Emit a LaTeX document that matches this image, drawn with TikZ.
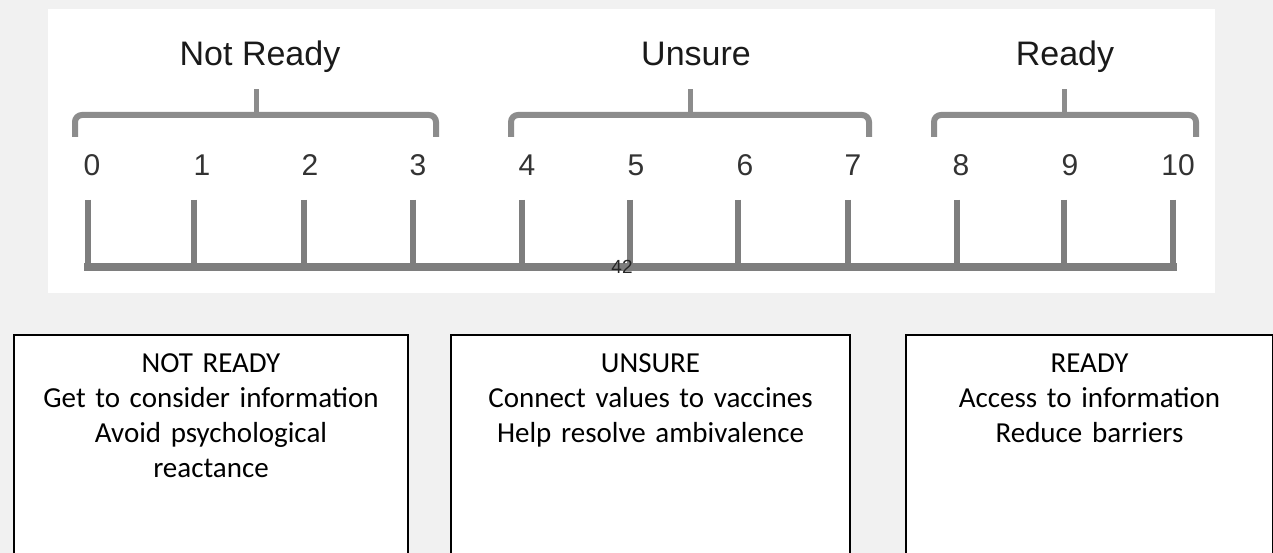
\documentclass[tikz,border=0pt]{standalone}
\usepackage{fontspec}
\setmainfont{Carlito}
\newfontfamily\scalefont{Liberation Sans}
\definecolor{pagebg}{HTML}{F1F1F1}
\definecolor{rulegray}{HTML}{7E7E7E}
\definecolor{bracegray}{HTML}{8C8C8C}
\definecolor{digitgray}{HTML}{333333}
\definecolor{labelink}{HTML}{1A1A1A}
\tikzset{
  tickline/.style={draw=rulegray, line width=5.5pt},
  baseline/.style={draw=rulegray, line width=8.5pt, line cap=rect},
  bracket/.style={draw=bracegray, line width=6pt, rounded corners=7pt},
  bracketstem/.style={draw=bracegray, line width=5pt},
  digit/.style={font=\scalefont\fontsize{30}{30}\selectfont, text=digitgray, inner sep=0pt, anchor=base},
  grouplabel/.style={font=\scalefont\fontsize{34}{34}\selectfont, text=labelink, inner sep=0pt, anchor=base},
  stagebox/.style={draw=black, line width=2pt, fill=white, anchor=north west, minimum height=240pt, inner sep=0pt},
  stagetext/.style={font=\fontsize{29}{35}\selectfont, text=black, align=center, text width=390pt, inner sep=0pt, anchor=base},
}
\begin{document}
\begin{tikzpicture}[x=1pt, y=-1pt]
  \useasboundingbox (0,0) rectangle (1273,553);
  \clip (0,0) rectangle (1273,553);
  \fill[pagebg] (0,0) rectangle (1273,553);

  % white panel behind the scale
  \fill[white] (48,9) rectangle (1215,293);

  % ruler: ticks and baseline
  \foreach \x [count=\i from 0] in {88,194,304,413,522,630,738,848,957,1064,1173} {
    \coordinate (t\i) at (\x,200);
    \coordinate (b\i) at (\x,267);
    \draw[tickline] (t\i) -- (b\i);
  }
  \draw[baseline] (b0) -- (b10);

  % numbers above the ticks
  \foreach \x [count=\i from 0] in {92,202,310,418,527,636,745,853,961,1070,1178} {
    \node[digit] (n\i) at (\x,176) {\i};
  }

  % page number printed over the baseline
  \node[font=\scalefont\fontsize{19}{19}\selectfont, text=black!85, inner sep=0pt] (pg) at (622,267) {42};

  % group brackets
  \draw[bracket] (75,137) -- (75,115) -- (436,115) -- (436,137);
  \draw[bracket] (511,137) -- (511,115) -- (869,115) -- (869,137);
  \draw[bracket] (934,137) -- (934,115) -- (1196,115) -- (1196,137);
  \draw[bracketstem] (256,116) -- (256,89);
  \draw[bracketstem] (690,116) -- (690,89);
  \draw[bracketstem] (1064,116) -- (1064,89);

  % group labels
  \node[grouplabel] (lnr) at (260,66) {Not Ready};
  \node[grouplabel] (lun) at (696,66) {Unsure};
  \node[grouplabel] (lrd) at (1065,66) {Ready};

  % stage boxes (continue below the lower edge)
  \node[stagebox, minimum width=394pt] (bnr) at (13,334) {};
  \node[stagebox, minimum width=399pt] (bun) at (450,334) {};
  \node[stagebox, minimum width=367pt] (brd) at (905,334) {};

  \node[stagetext] (tnr) at (bnr.north |- 0,372) {NOT READY\\Get to consider information\\Avoid psychological\\reactance};
  \node[stagetext] (tun) at (bun.north |- 0,372) {UNSURE\\Connect values to vaccines\\Help resolve ambivalence};
  \node[stagetext] (trd) at (brd.north |- 0,372) {READY\\Access to information\\Reduce barriers};
\end{tikzpicture}
\end{document}
